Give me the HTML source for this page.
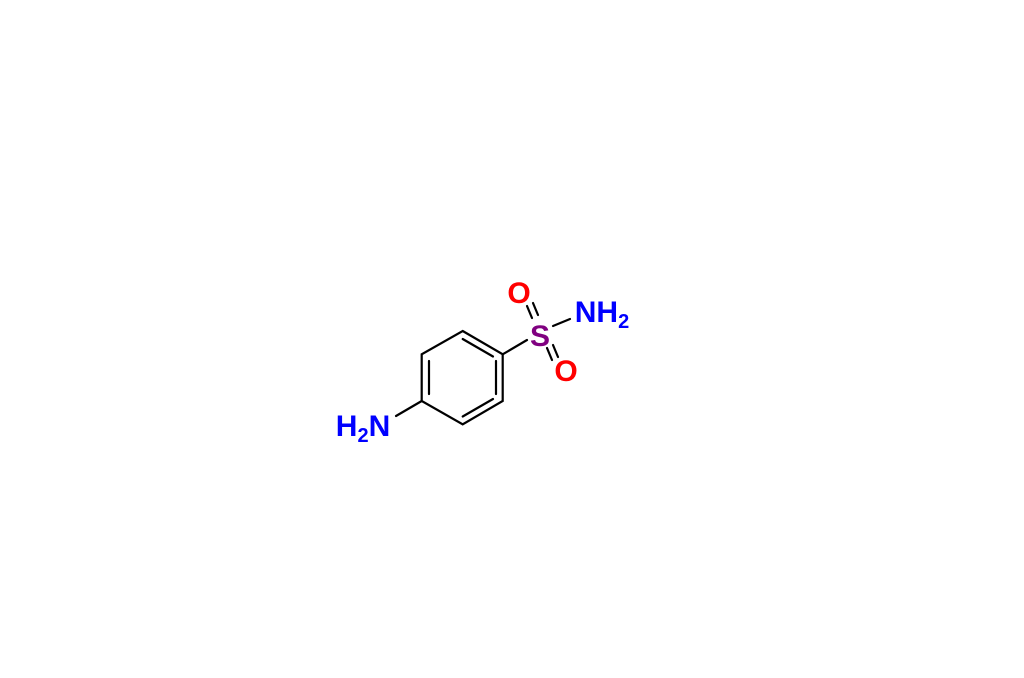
<!DOCTYPE html>
<html><head><style>html,body{margin:0;padding:0;background:#fff;}</style></head>
<body>
<svg width="1024" height="673" viewBox="0 0 1024 673" xmlns="http://www.w3.org/2000/svg">
<rect width="1024" height="673" fill="#fff"/>
<g stroke="#000" stroke-width="2.2" fill="none" stroke-linecap="round">
<polygon points="462.7,331 502.7,354.3 502.7,401 462.7,424.3 421.7,401 421.7,354.3"/>
<line x1="496" y1="361" x2="496" y2="394"/>
<line x1="429" y1="361" x2="429" y2="394"/>
<line x1="462.7" y1="339" x2="493" y2="356.5"/>
<line x1="462.7" y1="416.5" x2="493" y2="399"/>
<line x1="502.7" y1="354.3" x2="527" y2="340"/>
<line x1="421.7" y1="401" x2="396" y2="416"/>
<line x1="553" y1="326" x2="570" y2="319"/>
<line x1="527" y1="306" x2="532" y2="318"/>
<line x1="533" y1="303" x2="538" y2="315"/>
<line x1="547" y1="348" x2="552" y2="360"/>
<line x1="553" y1="345" x2="558" y2="357"/>
</g>
<g font-family="Liberation Sans, sans-serif" font-weight="bold" font-size="30" text-anchor="middle">
<text x="540" y="346" fill="#800080">S</text>
<text x="519" y="303" fill="#f00">O</text>
<text x="566" y="381" fill="#f00">O</text>
<text x="602" y="322" fill="#0000ff">NH<tspan font-size="20" dy="6">2</tspan></text>
<text x="363" y="436" fill="#0000ff">H<tspan font-size="20" dy="6">2</tspan><tspan dy="-6">N</tspan></text>
</g>
</svg>
</body></html>
